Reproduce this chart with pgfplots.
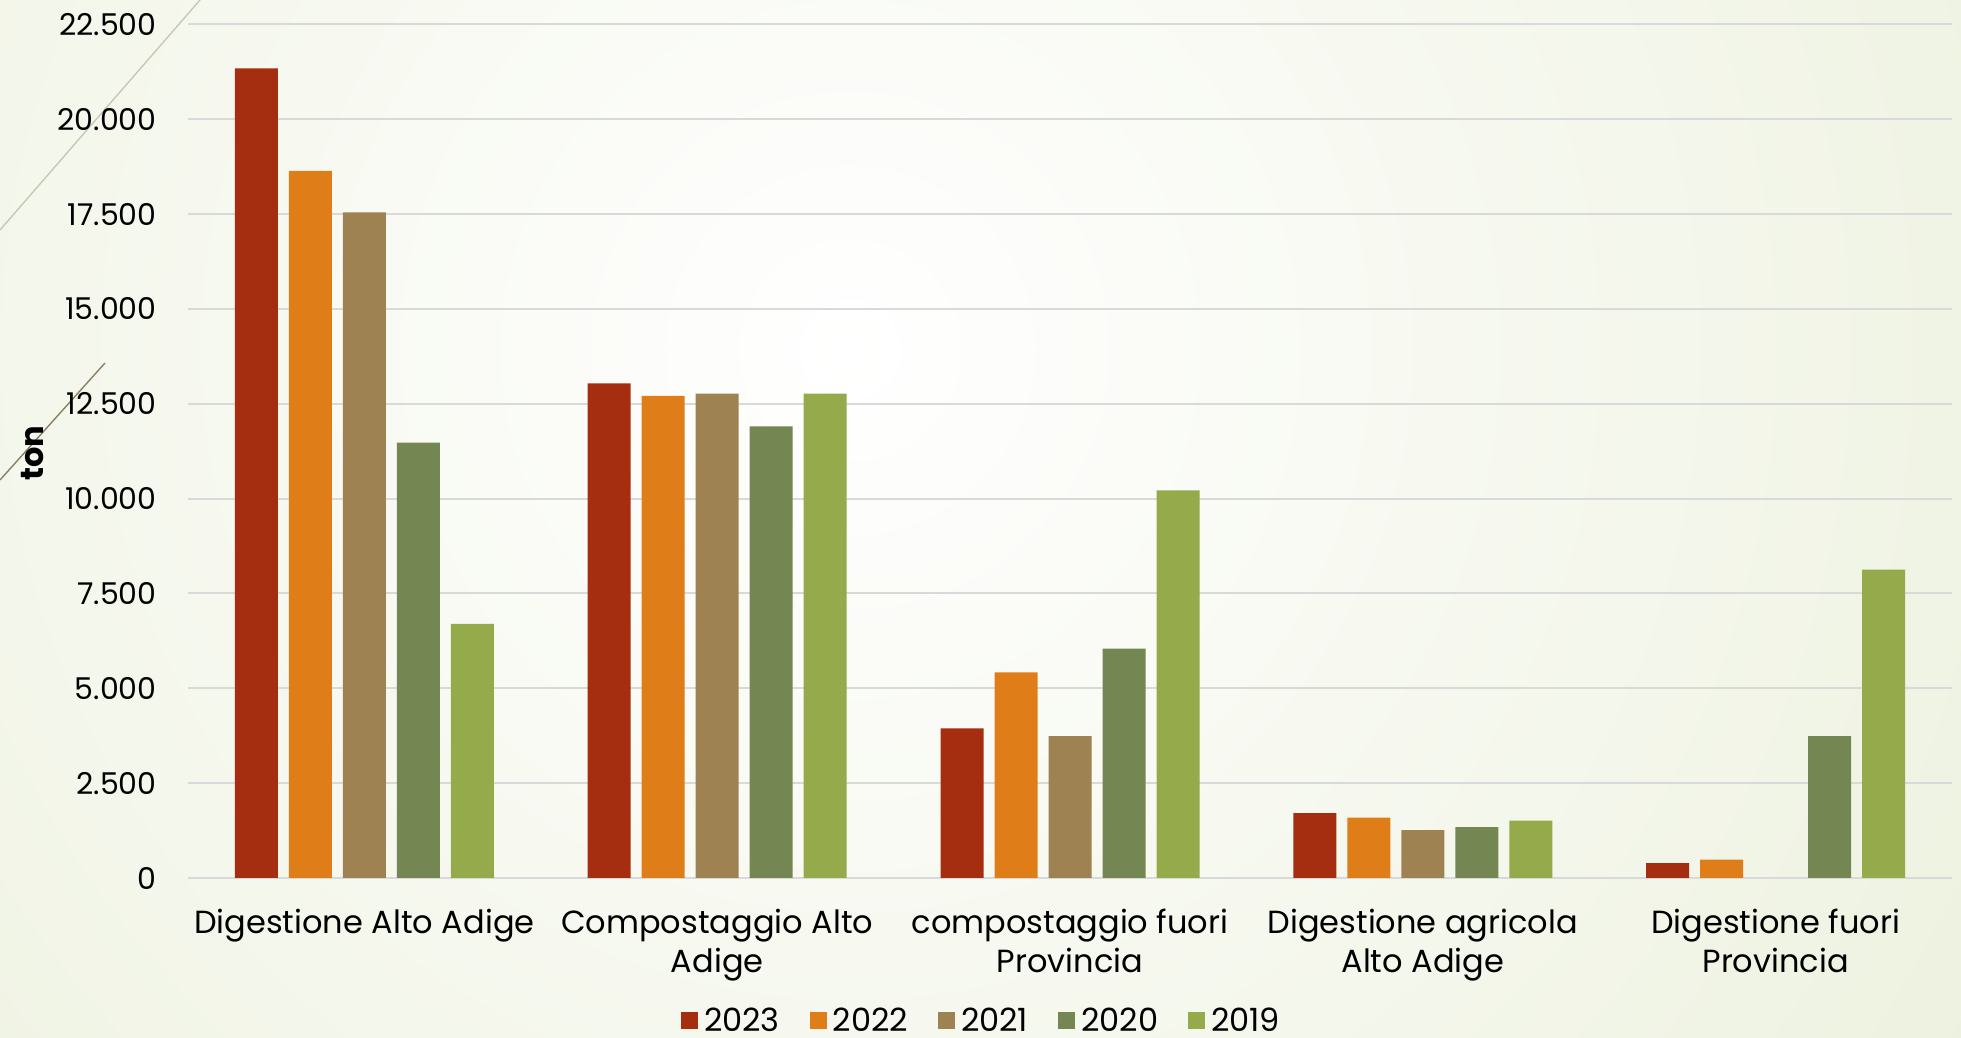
\documentclass[border=0pt]{standalone}
\usepackage{fontspec}
\setmainfont{Poppins}
\usepackage{pgfplots}
\pgfplotsset{compat=1.18}

\definecolor{c2023}{HTML}{A52E10}
\definecolor{c2022}{HTML}{DF7E18}
\definecolor{c2021}{HTML}{9F8251}
\definecolor{c2020}{HTML}{748752}
\definecolor{c2019}{HTML}{94AA4B}
\definecolor{bgg}{HTML}{E4EBCF}
\definecolor{gridc}{HTML}{D9D9D9}

\begin{document}
\begin{tikzpicture}
% slide background, 1 px = 0.5pt
\useasboundingbox (0,0) rectangle (980.5pt,519pt);
\clip (0,0) rectangle (980.5pt,519pt);
\fill[bgg] (0,0) rectangle (980.5pt,519pt);
\shade[inner color=white, outer color=bgg] (425pt,344pt) circle (1000pt);
\draw[color={rgb,255:red,200;green,200;blue,182}, line width=0.7pt] (0,404pt) -- (100pt,519pt);
\draw[color={rgb,255:red,140;green,128;blue,100}, line width=0.7pt] (0,279pt) -- (52.5pt,337.5pt);

\begin{axis}[
    at={(94pt,80pt)}, anchor=south west,
    scale only axis,
    width=882pt, height=426.75pt,
    ybar=5.5pt, bar width=21.5pt,
    xmin=-0.5, xmax=4.5,
    ymin=0, ymax=22500,
    xtick={0,1,2,3,4},
    xticklabels={{Digestione Alto Adige},{Compostaggio Alto\\Adige},{compostaggio fuori\\Provincia},{Digestione agricola\\Alto Adige},{Digestione fuori\\Provincia}},
    ytick={0,2500,5000,7500,10000,12500,15000,17500,20000,22500},
    yticklabels={0,2.500,5.000,7.500,10.000,12.500,15.000,17.500,20.000,22.500},
    axis line style={draw=none},
    tick style={draw=none},
    ymajorgrids,
    major grid style={color=gridc, line width=1pt},
    yticklabel style={anchor=east, inner sep=0pt, xshift=-15.5pt, font=\fontsize{15}{18}\selectfont},
    xticklabel style={align=center, anchor=north, inner sep=0pt, yshift=-11pt, font=\fontsize{16}{19.5}\selectfont},
    ylabel={ton},
    ylabel style={at={(axis description cs:-0.088,0.498)}, anchor=center, font=\fontsize{16}{19}\selectfont\bfseries},
    legend image code/.code={\fill[#1] (0pt,-4.25pt) rectangle (8.5pt,4.25pt);},
    legend columns=5,
    legend style={at={(axis description cs:0.451,-0.1675)}, anchor=center, draw=none, fill=none,
        font=\fontsize{16}{19}\selectfont,
        /tikz/every even column/.append style={column sep=12pt},
        nodes={inner xsep=3pt, inner ysep=0pt}},
]
\addplot[fill=c2023, draw=none] coordinates {(0,21342) (1,13040) (2,3947) (3,1713) (4,395)};
\addlegendentry{2023}
\addplot[fill=c2022, draw=none] coordinates {(0,18640) (1,12710) (2,5421) (3,1590) (4,483)};
\addlegendentry{2022}
\addplot[fill=c2021, draw=none] coordinates {(0,17544) (1,12770) (2,3737) (3,1265)};
\addlegendentry{2021}
\addplot[fill=c2020, draw=none] coordinates {(0,11474) (1,11905) (2,6045) (3,1344) (4,3743)};
\addlegendentry{2020}
\addplot[fill=c2019, draw=none] coordinates {(0,6700) (1,12770) (2,10221) (3,1511) (4,8128)};
\addlegendentry{2019}
\end{axis}
\end{tikzpicture}
\end{document}
